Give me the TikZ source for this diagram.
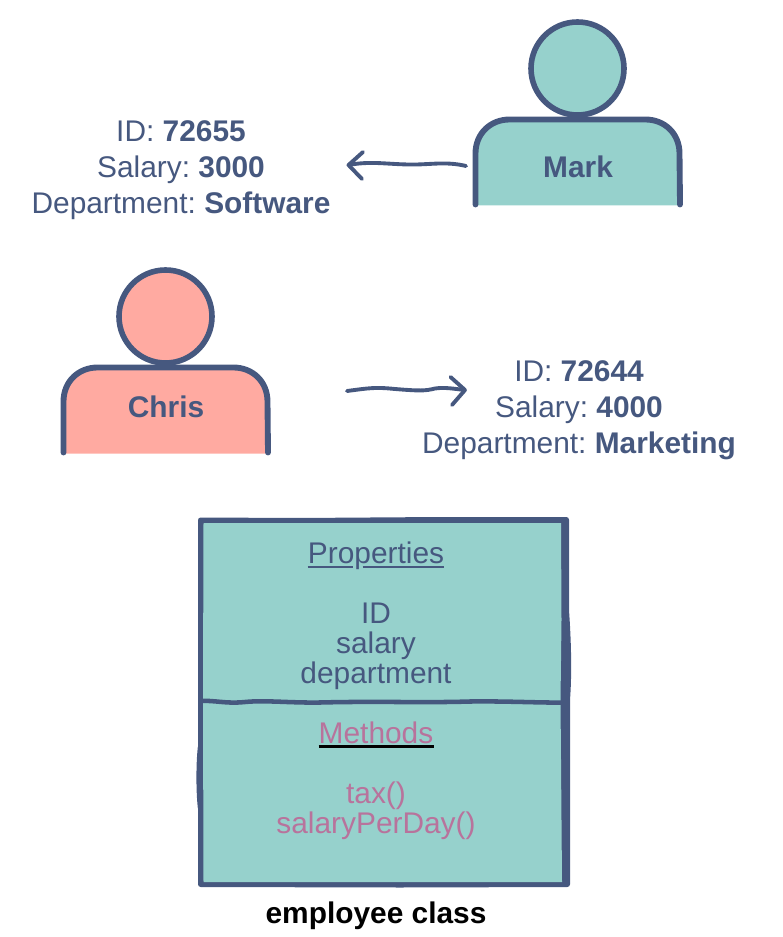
\documentclass[tikz,border=0pt]{standalone}
\usepackage{fontspec}
\setmainfont{Liberation Sans}
\frenchspacing
\definecolor{ink}{HTML}{46587F}
\definecolor{tealfill}{HTML}{96D1CC}
\definecolor{salmonfill}{HTML}{FFAAA1}
\definecolor{methodpink}{HTML}{B8739C}
\newcommand{\bigfont}{\fontsize{22.4pt}{27pt}\selectfont}
\newcommand{\boxfont}{\fontsize{22.4pt}{22.5pt}\selectfont}
\tikzset{
  infotext/.style={font=\bigfont,text=ink,align=center,inner sep=0pt},
  boxtext/.style={font=\boxfont,text=ink,align=center,inner sep=0pt},
  methodtext/.style={font=\boxfont,text=methodpink,align=center,inner sep=0pt},
  nametext/.style={font=\bigfont\bfseries,text=ink,inner sep=0pt},
  handline/.style={draw=ink,line width=2.9pt,line cap=round,line join=round},
  pics/personfig/.style={code={
    \fill[#1] (-102,137) -- (-102,85) .. controls (-102,65) and (-87,51) .. (-68,51)
      -- (68,51) .. controls (87,51) and (102,65) .. (102,85) -- (102,137) -- cycle;
    \draw[draw=ink,line width=4.4pt,line cap=round] (-102,136) -- (-102,85)
      .. controls (-102,65) and (-87,51) .. (-68,51) -- (68,51)
      .. controls (87,51) and (102,65) .. (102,85) -- (102.5,136);
    \draw[draw=ink,fill=#1,line width=4.2pt] (0,0) circle (46.5);
  }}
}
\begin{document}
\begin{tikzpicture}[x=0.75pt,y=-0.75pt]
\useasboundingbox (0,0) rectangle (782,937);
% people
\pic at (577.5,68.5) {personfig=tealfill};
\pic at (165.5,316.5) {personfig=salmonfill};
\node[nametext] (mark) at (578,167) {Mark};
\node[nametext] (chris) at (166,407) {Chris};
% details
\node[infotext] (markinfo) at (181,170) {ID: \textbf{72655}\\Salary: \textbf{3000}\\Department: \textbf{Software}};
\node[infotext] (chrisinfo) at (579,410) {ID: \textbf{72644}\\Salary: \textbf{4000}\\Department: \textbf{Marketing}};
% connectors
\coordinate (markfrom) at (466,166);
\coordinate (markto) at (348.5,165);
\coordinate (chrisfrom) at (347,391);
\coordinate (christo) at (465,390);
\draw[handline] (markfrom) .. controls (445,161) and (430,165) .. (408,164.5)
  .. controls (385,164) and (370,161) .. (markto);
\draw[handline] (363,152) -- (markto) -- (362,179);
\draw[handline] (chrisfrom) .. controls (370,388) and (375,387) .. (395,389)
  .. controls (420,391) and (425,391) .. (435,388.5)
  .. controls (445,387) and (455,389) .. (christo);
\draw[handline] (450.5,377) -- (christo) -- (452,405);
% class box: outer hand-drawn outline, then inner fill
\fill[ink,rounded corners=2pt] (198,517.5) -- (300,518) -- (440,517) -- (569,517)
  -- (569,610) .. controls (571,640) and (572,670) .. (570,700) -- (570,887)
  -- (400,887.5) -- (198,887) -- (198,745) .. controls (196,765) and (196,790) .. (198,810) -- cycle;
\path[fill=tealfill] (203.5,523) -- (400,523) -- (561,523) -- (561.5,620) -- (560.5,700) -- (562,882)
  -- (400,882) -- (203.5,882) -- (203,700) -- cycle;
\coordinate (divleft) at (199,701);
\coordinate (divright) at (569,702.5);
\draw[draw=ink,line width=3.4pt] (divleft) .. controls (215,700) and (225,704) .. (245,702)
  .. controls (265,700) and (290,703) .. (320,702.5)
  .. controls (380,701) and (420,703) .. (470,701.5)
  .. controls (510,701) and (540,703) .. (divright);
% box text
\node[boxtext] (props) at (376,556) {Properties};
\draw[ink,line width=2.2pt] (307.5,567) -- (353,567) (362.5,567) -- (444,567);
\node[boxtext] (propsbody) at (376,646) {ID\\salary\\department};
\node[methodtext] (methods) at (376,733) {Methods};
\draw[black,line width=2.2pt] (318.5,746.5) -- (433.5,746.5);
\node[methodtext] (methodsbody) at (376,811) {tax()\\salaryPerDay()};
\node[font=\bigfont\bfseries,text=black,inner sep=0pt] (caption) at (376,916) {employee class};
\end{tikzpicture}
\end{document}
